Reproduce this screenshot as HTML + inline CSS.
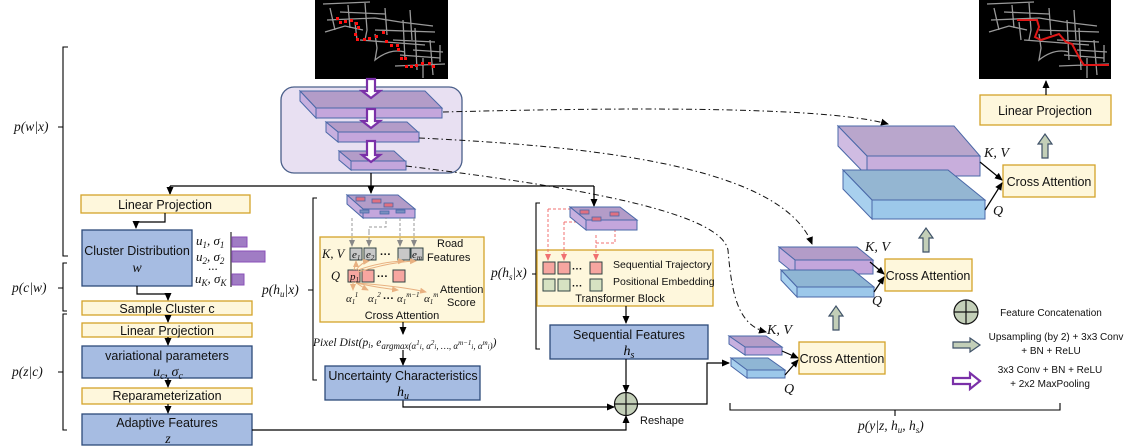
<!DOCTYPE html>
<html><head><meta charset="utf-8"><style>
html,body{margin:0;padding:0;background:#fff;}
svg{display:block;font-family:"Liberation Sans",sans-serif;}
.m{font-family:"Liberation Serif",serif;font-style:italic;}
</style></head><body>
<svg width="1130" height="447" viewBox="0 0 1130 447" xmlns="http://www.w3.org/2000/svg">
<defs>
<marker id="ah" markerWidth="8" markerHeight="8" refX="7" refY="4" orient="auto" markerUnits="userSpaceOnUse"><path d="M0,0.5 L8,4 L0,7.5 Z" fill="#000"/></marker>
<marker id="ahr" markerWidth="7" markerHeight="7" refX="6" refY="3.5" orient="auto" markerUnits="userSpaceOnUse"><path d="M0,0.5 L7,3.5 L0,6.5 Z" fill="#f07070"/></marker>
<marker id="ahg" markerWidth="7" markerHeight="7" refX="6" refY="3.5" orient="auto" markerUnits="userSpaceOnUse"><path d="M0,0.5 L7,3.5 L0,6.5 Z" fill="#888"/></marker>
<marker id="aho" markerWidth="7" markerHeight="7" refX="6" refY="3.5" orient="auto" markerUnits="userSpaceOnUse"><path d="M0,0.5 L7,3.5 L0,6.5 Z" fill="#e8b080"/></marker>
<g id="grid" stroke="#9a9a9a" stroke-width="1.3" fill="none">
<path d="M12,20 L60,18 L85,22 L118,26 M8,4 L55,2 M15,8 L20,30 M33,5 L35,28 M50,3 L52,30 L50,40 M70,8 L72,35 M88,20 L90,60 M100,28 L102,70 M115,40 L118,75 M60,30 L120,32 M45,40 L110,45 M85,55 L125,58 M80,66 L130,64 M10,32 L30,26 L48,30 M60,34 L62,48 L60,60 Q75,48 90,52 M98,50 L128,52 M108,58 L108,78 M125,45 L125,62 M25,12 L70,14 M40,22 L42,40 M78,40 L120,42 M95,10 L97,40"/>
</g>
</defs>

<rect x="315" y="0" width="133" height="79" fill="#000"/>
<use href="#grid" x="315" y="0"/>
<g fill="#ff1010">
<rect x="336" y="17" width="3" height="3"/><rect x="339" y="21" width="3" height="3"/><rect x="344" y="20" width="3" height="3"/><rect x="350" y="19" width="3" height="3"/><rect x="355" y="22" width="3" height="3"/><rect x="357" y="26" width="3" height="3"/><rect x="354" y="33" width="3" height="3"/><rect x="356" y="38" width="3" height="3"/><rect x="363" y="38" width="3" height="3"/><rect x="368" y="37" width="3" height="3"/><rect x="375" y="35" width="3" height="3"/><rect x="382" y="31" width="3" height="3"/><rect x="385" y="40" width="3" height="3"/><rect x="390" y="44" width="3" height="3"/><rect x="396" y="44" width="3" height="3"/><rect x="397" y="48" width="3" height="3"/><rect x="400" y="57" width="3" height="3"/><rect x="404" y="57" width="3" height="3"/><rect x="405" y="65" width="3" height="3"/><rect x="410" y="65" width="3" height="3"/><rect x="415" y="64" width="3" height="3"/><rect x="421" y="62" width="3" height="3"/><rect x="428" y="62" width="3" height="3"/><rect x="432" y="65" width="3" height="3"/>
</g>

<rect x="979" y="0" width="132" height="79" fill="#000"/>
<use href="#grid" x="979" y="0"/>
<polyline points="1017,20 1037,20 1039,27 1035,37 1041,40 1059,34 1066,42 1072,44 1080,59 1084,65 1090,65 1109,65" fill="none" stroke="#e01818" stroke-width="2"/>

<rect x="281" y="87" width="181" height="86" rx="13" fill="#e8e0f2" stroke="#4a5f8a" stroke-width="1.3"/>
<g stroke="#4a68a8" stroke-width="1">
<polygon points="300,91 425,91 442,108 316,108" fill="#b39cc8"/><polygon points="316,108 442,108 442,118 316,118" fill="#c4a6dc"/><polygon points="300,91 316,108 316,118 300,101" fill="#c7b0df"/>
<polygon points="326,122 407,122 418,132 338,132" fill="#b39cc8"/><polygon points="338,132 419,132 419,142 338,142" fill="#c4a6dc"/><polygon points="326,122 338,132 338,142 326,132" fill="#c7b0df"/>
<polygon points="339,151 394,151 405,161 351,161" fill="#b39cc8"/><polygon points="351,161 406,161 406,170 351,170" fill="#c4a6dc"/><polygon points="339,151 351,161 351,170 339,160" fill="#c7b0df"/>
</g>
<g fill="#fff" stroke="#7a30a8" stroke-width="2.2">
<path d="M367,79 L375,79 L375,91 L380,91 L371,98 L362,91 L367,91 Z"/>
<path d="M367,109 L375,109 L375,121 L380,121 L371,128 L362,121 L367,121 Z"/>
<path d="M367,141 L375,141 L375,155 L380,155 L371,162 L362,155 L367,155 Z"/>
</g>

<g fill="none" stroke="#111" stroke-width="1" stroke-dasharray="6,3,1.5,3">
<path d="M443,112 C600,108 820,105 888,124" marker-end="url(#ah)"/>
<path d="M419,138 C560,145 780,160 812,244" marker-end="url(#ah)"/>
<path d="M406,166 C560,185 720,210 728,250 C732,300 740,325 766,332" marker-end="url(#ah)"/>
</g>

<g fill="none" stroke="#000" stroke-width="1.3">
<path d="M371,173 L371,193" marker-end="url(#ah)"/>
<path d="M170,186 L594,186"/>
<path d="M170,186 L170,194" marker-end="url(#ah)"/>
<path d="M594,186 L594,206" marker-end="url(#ah)"/>
</g>

<g stroke="#d4a32a" stroke-width="1.3" fill="#fef7dc">
<rect x="81" y="195" width="169" height="18"/>
<rect x="82" y="301" width="170" height="14"/>
<rect x="82" y="323" width="170" height="14"/>
<rect x="82" y="388" width="170" height="16"/>
</g>
<g stroke="#2d4a7a" stroke-width="1.3" fill="#a6bce2">
<rect x="82" y="230" width="110" height="56"/>
<rect x="82" y="346" width="170" height="32"/>
<rect x="82" y="414" width="170" height="31"/>
</g>
<g font-size="12.5" text-anchor="middle" fill="#111">
<text x="165" y="209">Linear Projection</text>
<text x="137" y="255">Cluster Distribution</text>
<text x="167" y="313">Sample Cluster c</text>
<text x="167" y="335">Linear Projection</text>
<text x="167" y="360">variational parameters</text>
<text x="167" y="400">Reparameterization</text>
<text x="167" y="427">Adaptive Features</text>
</g>
<g class="m" font-size="14" text-anchor="middle" fill="#111">
<text x="137" y="272">w</text>
<text x="168" y="376">u<tspan font-size="10" dy="3">c</tspan><tspan dy="-3">, σ</tspan><tspan font-size="10" dy="3">c</tspan></text>
<text x="168" y="443">z</text>
</g>
<g class="m" font-size="13" fill="#111">
<text x="196" y="245">u<tspan font-size="9" dy="3">1</tspan><tspan dy="-3">, σ</tspan><tspan font-size="9" dy="3">1</tspan></text>
<text x="196" y="261">u<tspan font-size="9" dy="3">2</tspan><tspan dy="-3">, σ</tspan><tspan font-size="9" dy="3">2</tspan></text>
<text x="208" y="270" font-style="normal">...</text>
<text x="195" y="283">u<tspan font-size="9" dy="3">K</tspan><tspan dy="-3">, σ</tspan><tspan font-size="9" dy="3">K</tspan></text>
</g>
<line x1="231" y1="232" x2="231" y2="287" stroke="#555" stroke-width="1.5"/>
<g fill="#a07cc4" stroke="#8a4fb8" stroke-width="1">
<rect x="232" y="237" width="15" height="10"/><rect x="232" y="251" width="33" height="11"/><rect x="232" y="274" width="12" height="11"/>
</g>
<g fill="none" stroke="#000" stroke-width="1.2">
<path d="M165,213 L165,222 L136,222 L136,228" marker-end="url(#ah)"/>
<path d="M137,286 L137,294 L168,294 L168,300" marker-end="url(#ah)"/>
<path d="M168,315 L168,322" marker-end="url(#ah)"/>
<path d="M168,337 L168,345" marker-end="url(#ah)"/>
<path d="M168,378 L168,387" marker-end="url(#ah)"/>
<path d="M168,404 L168,413" marker-end="url(#ah)"/>
<path d="M252,430 L626,430 L626,416" marker-end="url(#ah)"/>
</g>

<g fill="none" stroke="#000" stroke-width="1.1">
<path d="M68,47 L63,47 L63,256 L68,256 M63,127 L58,127"/>
<path d="M67,263 L63,263 L63,311 L67,311 M63,288 L58,288"/>
<path d="M67,314 L63,314 L63,430 L67,430 M63,372 L58,372"/>
<path d="M317,198 L313,198 L313,380 L317,380 M313,290 L308,290"/>
<path d="M540,203 L536,203 L536,349 L540,349 M536,274 L532,274"/>
<path d="M730,403 L730,410 L1060,410 L1060,403 M895,410 L895,416"/>
</g>
<g class="m" font-size="13.5" fill="#111">
<text x="14" y="131">p(w|x)</text>
<text x="12" y="292">p(c|w)</text>
<text x="12" y="376">p(z|c)</text>
<text x="262" y="294">p(h<tspan font-size="9" dy="3">u</tspan><tspan dy="-3">|x)</tspan></text>
<text x="491" y="277">p(h<tspan font-size="9" dy="3">s</tspan><tspan dy="-3">|x)</tspan></text>
<text x="858" y="430">p(y|z, h<tspan font-size="9" dy="3">u</tspan><tspan dy="-3">, h</tspan><tspan font-size="9" dy="3">s</tspan><tspan dy="-3">)</tspan></text>
</g>

<g stroke="#4a68a8" stroke-width="1">
<polygon points="347,195 398,195 415,209 363,209" fill="#b39cc8"/><polygon points="363,209 415,209 415,218 363,218" fill="#c4a6dc"/><polygon points="347,195 363,209 363,218 347,204" fill="#c7b0df"/>
</g>
<g fill="#e07080" stroke="#4a68a8" stroke-width="0.8">
<rect x="356" y="197" width="9" height="4"/><rect x="384" y="203" width="9" height="4"/><rect x="372" y="199" width="9" height="4"/><rect x="360" y="210" width="9" height="3" fill="#7a90c0"/><rect x="380" y="211" width="9" height="3" fill="#7a90c0"/><rect x="396" y="210" width="9" height="3" fill="#7a90c0"/>
</g>
<rect x="320" y="237" width="164" height="85" fill="#fef7dc" stroke="#d4a32a" stroke-width="1.3"/>
<g fill="none" stroke="#999" stroke-width="1" stroke-dasharray="3,2">
<path d="M352,218 L352,246" marker-end="url(#ahg)"/><path d="M369,232 L369,227 L386,227 L386,218 M369,232 L369,246" marker-end="url(#ahg)"/><path d="M400,218 L400,246" marker-end="url(#ahg)"/><path d="M414,218 L414,246" marker-end="url(#ahg)"/>
</g>
<g stroke="#344" stroke-width="1">
<rect x="350" y="248" width="12" height="12" fill="#c8c8c8"/><rect x="364" y="248" width="12" height="12" fill="#c8c8c8"/><rect x="398" y="248" width="12" height="12" fill="#c8c8c8"/><rect x="411" y="248" width="12" height="12" fill="#c8c8c8"/>
<rect x="348" y="270" width="12" height="12" fill="#f7a6a0"/><rect x="362" y="270" width="12" height="12" fill="#f7a6a0"/><rect x="393" y="270" width="12" height="12" fill="#f7a6a0"/>
</g>
<g fill="none" stroke="#e8b080" stroke-width="1">
<path d="M354,270 Q356,262 356,261" marker-end="url(#aho)"/><path d="M356,270 Q362,262 369,261" marker-end="url(#aho)"/><path d="M358,270 Q380,262 404,261" marker-end="url(#aho)"/><path d="M358,272 Q390,262 416,261" marker-end="url(#aho)"/>
<path d="M353,282 L353,290" marker-end="url(#aho)"/><path d="M355,282 Q362,287 368,290" marker-end="url(#aho)"/><path d="M356,283 Q380,288 398,290" marker-end="url(#aho)"/><path d="M356,283 Q400,286 426,292" marker-end="url(#aho)"/>
</g>
<g class="m" font-size="12.5" fill="#111">
<text x="322" y="258">K, V</text>
<text x="352" y="258" font-size="11">e<tspan font-size="7" dy="2">1</tspan></text>
<text x="366" y="258" font-size="11">e<tspan font-size="7" dy="2">2</tspan></text>
<text x="412" y="258" font-size="11">e<tspan font-size="7" dy="2">m</tspan></text>
<text x="331" y="280">Q</text>
<text x="350" y="280" font-size="11">p<tspan font-size="7" dy="2">1</tspan></text>
<text x="346" y="302" font-size="11">α<tspan font-size="7" dy="2">1</tspan><tspan font-size="7" dy="-7">1</tspan></text>
<text x="368" y="302" font-size="11">α<tspan font-size="7" dy="2">1</tspan><tspan font-size="7" dy="-7">2</tspan></text>
<text x="397" y="302" font-size="11">α<tspan font-size="7" dy="2">1</tspan><tspan font-size="7" dy="-7">m−1</tspan></text>
<text x="424" y="302" font-size="11">α<tspan font-size="7" dy="2">1</tspan><tspan font-size="7" dy="-7">m</tspan></text>
</g>
<g font-size="11" fill="#111">
<text x="380" y="258" font-weight="bold">···</text>
<text x="377" y="280" font-weight="bold">···</text>
<text x="383" y="302" font-weight="bold">···</text>
<text x="437" y="247">Road</text><text x="427" y="261">Features</text>
<text x="440" y="293">Attention</text><text x="447" y="306">Score</text>
<text x="402" y="319" text-anchor="middle">Cross Attention</text>
</g>
<g fill="none" stroke="#000" stroke-width="1.2">
<path d="M403,322 L403,334" marker-end="url(#ah)"/>
<path d="M403,350 L403,365" marker-end="url(#ah)"/>
<path d="M403,400 L403,407 L614,407" marker-end="url(#ah)"/>
</g>
<text class="m" x="313" y="346" font-size="11.5" fill="#111">Pixel Dist(p<tspan font-size="8" dy="2">i</tspan><tspan dy="-2">, e</tspan><tspan font-size="9" dy="3">argmax(α</tspan><tspan font-size="7" dy="-4">1</tspan><tspan font-size="7" dy="4">i</tspan><tspan font-size="9">, α</tspan><tspan font-size="7" dy="-4">2</tspan><tspan font-size="7" dy="4">i</tspan><tspan font-size="9">, …, α</tspan><tspan font-size="7" dy="-4">m−1</tspan><tspan font-size="7" dy="4">i</tspan><tspan font-size="9">, α</tspan><tspan font-size="7" dy="-4">m</tspan><tspan font-size="7" dy="4">i</tspan><tspan font-size="9">)</tspan><tspan dy="-3">)</tspan></text>
<rect x="325" y="366" width="155" height="34" fill="#a6bce2" stroke="#2d4a7a" stroke-width="1.3"/>
<text x="403" y="380" font-size="12.5" text-anchor="middle" fill="#111">Uncertainty Characteristics</text>
<text class="m" x="403" y="396" font-size="14" text-anchor="middle">h<tspan font-size="10" dy="3">u</tspan></text>

<rect x="537" y="250" width="176" height="56" fill="#fef7dc" stroke="#d4a32a" stroke-width="1.3"/>
<g fill="none" stroke="#f07070" stroke-width="1" stroke-dasharray="3,2">
<path d="M548,209 L548,260" marker-end="url(#ahr)"/><path d="M564,222 L564,260" marker-end="url(#ahr)"/><path d="M596,235 L596,260" marker-end="url(#ahr)"/>
<path d="M548,209 L578,209 M564,222 L590,222 M596,243 L615,243 L615,218"/>
</g>
<g stroke="#4a68a8" stroke-width="1">
<polygon points="570,207 620,207 637,220 586,220" fill="#b39cc8"/><polygon points="586,220 637,220 637,230 586,230" fill="#c4a6dc"/><polygon points="570,207 586,220 586,230 570,217" fill="#c7b0df"/>
</g>
<g fill="#e07080" stroke="#4a68a8" stroke-width="0.8">
<rect x="580" y="210" width="9" height="4"/><rect x="610" y="212" width="9" height="4"/><rect x="592" y="217" width="9" height="4"/>
</g>
<g stroke="#344" stroke-width="1">
<rect x="543" y="262" width="12" height="12" fill="#f7a6a0"/><rect x="558" y="262" width="12" height="12" fill="#f7a6a0"/><rect x="590" y="262" width="12" height="12" fill="#f7a6a0"/>
<rect x="543" y="279" width="12" height="12" fill="#d6e2c2"/><rect x="558" y="279" width="12" height="12" fill="#d6e2c2"/><rect x="590" y="279" width="12" height="12" fill="#d6e2c2"/>
</g>
<g font-size="10.5" fill="#111">
<text x="572" y="272" font-weight="bold">···</text><text x="572" y="289" font-weight="bold">···</text>
<text x="613" y="268">Sequential Trajectory</text>
<text x="613" y="285">Positional Embedding</text>
<text x="620" y="302" text-anchor="middle" font-size="11">Transformer Block</text>
</g>
<path d="M626,306 L626,323" stroke="#000" stroke-width="1.2" fill="none" marker-end="url(#ah)"/>
<rect x="550" y="325" width="158" height="34" fill="#a6bce2" stroke="#2d4a7a" stroke-width="1.3"/>
<text x="629" y="339" font-size="12.5" text-anchor="middle" fill="#111">Sequential Features</text>
<text class="m" x="629" y="355" font-size="14" text-anchor="middle">h<tspan font-size="10" dy="3">s</tspan></text>
<path d="M626,359 L626,392" stroke="#000" stroke-width="1.2" fill="none" marker-end="url(#ah)"/>

<circle cx="626" cy="404" r="11.5" fill="#c3cfb8" stroke="#111" stroke-width="1.2"/>
<path d="M614.5,404 L637.5,404 M626,392.5 L626,415.5" stroke="#111" stroke-width="1.2"/>
<text x="640" y="424" font-size="11" fill="#111">Reshape</text>
<path d="M637.5,404 L707,404 L707,363 L729,363" stroke="#000" stroke-width="1.2" fill="none" marker-end="url(#ah)"/>

<g stroke="#4a68a8" stroke-width="1">
<polygon points="729,336 766,336 782,347 745,347" fill="#b39cc8"/><polygon points="745,347 782,347 782,355 745,355" fill="#c4a6dc"/><polygon points="729,336 745,347 745,355 729,344" fill="#c7b0df"/>
<polygon points="731,358 768,358 785,370 747,370" fill="#8fb6d4"/><polygon points="747,370 785,370 785,378 747,378" fill="#9cc8ea"/><polygon points="731,358 747,370 747,378 731,366" fill="#a8d0ee"/>
<polygon points="779,247 857,247 873,260 795,260" fill="#b39cc8"/><polygon points="795,260 873,260 873,274 795,274" fill="#c4a6dc"/><polygon points="779,247 795,260 795,274 779,261" fill="#c7b0df"/>
<polygon points="781,270 853,270 874,287 797,287" fill="#8fb6d4"/><polygon points="797,287 874,287 874,297 797,297" fill="#9cc8ea"/><polygon points="781,270 797,287 797,297 781,280" fill="#a8d0ee"/>
<polygon points="838,126 954,126 980,156 867,156" fill="#b9a6cc"/><polygon points="867,156 980,156 980,176 867,176" fill="#c8aedc"/><polygon points="838,126 867,156 867,176 838,146" fill="#d0bce2"/>
<polygon points="843,170 948,170 985,200 872,200" fill="#94b6d2"/><polygon points="872,200 985,200 985,219 872,219" fill="#9cc8ea"/><polygon points="843,170 872,200 872,219 843,189" fill="#a8d0ee"/>
</g>
<g stroke="#d4a32a" stroke-width="1.3" fill="#fef7dc">
<rect x="799" y="342" width="86" height="32"/>
<rect x="885" y="259" width="87" height="32"/>
<rect x="1003" y="165" width="92" height="32"/>
<rect x="980" y="95" width="131" height="30"/>
</g>
<g font-size="12.5" fill="#111" text-anchor="middle">
<text x="842" y="363">Cross Attention</text>
<text x="928" y="280">Cross Attention</text>
<text x="1049" y="186">Cross Attention</text>
<text x="1045" y="115">Linear Projection</text>
</g>
<g fill="none" stroke="#000" stroke-width="1.2">
<path d="M782,351 L798,358" marker-end="url(#ah)"/><path d="M785,375 L798,360" marker-end="url(#ah)"/>
<path d="M870,262 L884,274" marker-end="url(#ah)"/><path d="M874,292 L884,277" marker-end="url(#ah)"/>
<path d="M980,162 L1002,180" marker-end="url(#ah)"/><path d="M985,210 L1002,183" marker-end="url(#ah)"/>
<path d="M1046,95 L1046,81" marker-end="url(#ah)"/>
</g>
<g class="m" font-size="14" fill="#111">
<text x="767" y="334">K, V</text><text x="784" y="393">Q</text>
<text x="865" y="251">K, V</text><text x="872" y="305">Q</text>
<text x="984" y="157">K, V</text><text x="993" y="215">Q</text>
</g>
<g fill="#c3cfb8" stroke="#3f5268" stroke-width="1.2">
<path d="M833,330 L839,330 L839,316 L843,316 L836,306 L829,316 L833,316 Z"/>
<path d="M923,252 L929,252 L929,238 L933,238 L926,228 L919,238 L923,238 Z"/>
<path d="M1042,158 L1048,158 L1048,144 L1052,144 L1045,134 L1038,144 L1042,144 Z"/>
</g>
<circle cx="966" cy="312" r="12" fill="#c3cfb8" stroke="#111" stroke-width="1.2"/>
<path d="M954,312 L978,312 M966,300 L966,324" stroke="#111" stroke-width="1.2"/>
<path d="M953,342 L970,342 L970,338 L980,345 L970,352 L970,348 L953,348 Z" fill="#c3cfb8" stroke="#3f5268" stroke-width="1.2"/>
<path d="M953,378 L970,378 L970,373 L980,381 L970,389 L970,384 L953,384 Z" fill="#fff" stroke="#7a30a8" stroke-width="2.2"/>
<g font-size="10" fill="#111" text-anchor="middle">
<text x="1051" y="316">Feature Concatenation</text>
<text x="1056" y="340">Upsampling (by 2) + 3x3 Conv</text>
<text x="1051" y="354">+ BN + ReLU</text>
<text x="1050" y="373">3x3 Conv + BN + ReLU</text>
<text x="1050" y="387">+ 2x2 MaxPooling</text>
</g>
</svg>
</body></html>
